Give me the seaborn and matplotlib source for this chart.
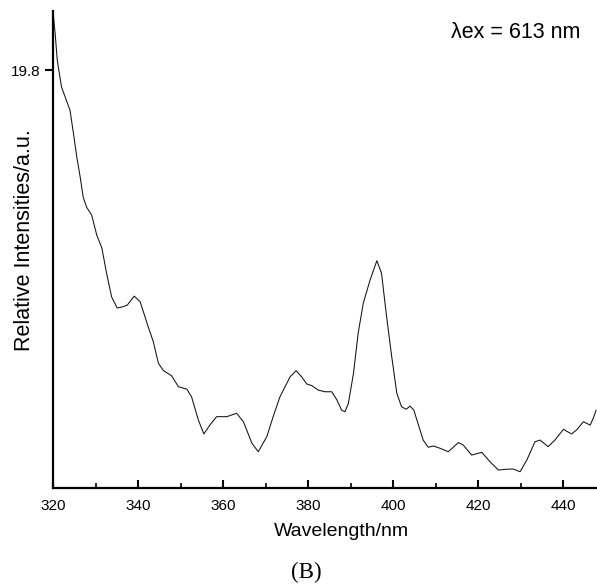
import matplotlib
matplotlib.use("Agg")
import matplotlib.pyplot as plt
import seaborn as sns
import pandas as pd
from matplotlib.ticker import MultipleLocator

wavelength = [320.0, 320.5, 321.0, 322.0, 324.0, 324.8, 325.6, 326.4, 327.1, 327.9,
              329.1, 330.3, 331.5, 332.6, 333.8, 335.1, 336.5, 337.5, 339.1, 340.5,
              342.4, 343.6, 344.8, 346.0, 347.9, 349.5, 351.5, 352.6, 354.2, 355.5,
              356.9, 358.5, 360.9, 363.2, 364.8, 366.8, 368.3, 370.3, 371.8, 373.4,
              374.6, 375.8, 377.2, 378.5, 379.7, 380.9, 382.4, 384.0, 385.6, 386.8,
              387.9, 388.7, 389.5, 390.7, 391.8, 393.0, 394.6, 396.2, 397.3, 398.5,
              399.7, 400.9, 402.0, 403.1, 404.0, 404.9, 406.0, 407.1, 408.3, 409.5,
              411.1, 413.0, 415.4, 416.5, 418.5, 420.9, 422.8, 424.8, 426.8, 428.3,
              429.9, 431.5, 433.4, 434.6, 436.5, 438.1, 440.1, 442.0, 443.2, 444.8,
              446.4, 447.1, 447.8]
intensity = [22.55, 21.55, 20.27, 19.00, 17.90, 16.82, 15.68, 14.73, 13.78, 13.31,
             12.93, 11.98, 11.37, 10.18, 9.05, 8.53, 8.59, 8.67, 9.09, 8.83,
             7.64, 6.93, 5.91, 5.56, 5.32, 4.80, 4.68, 4.32, 3.22, 2.56,
             2.98, 3.38, 3.38, 3.54, 3.14, 2.12, 1.72, 2.43, 3.38, 4.32,
             4.80, 5.27, 5.56, 5.27, 4.93, 4.85, 4.64, 4.56, 4.56, 4.17,
             3.69, 3.61, 4.01, 5.43, 7.33, 8.75, 9.85, 10.77, 10.17, 8.11,
             6.22, 4.49, 3.85, 3.73, 3.88, 3.69, 2.98, 2.27, 1.93, 1.99,
             1.88, 1.72, 2.15, 2.04, 1.56, 1.69, 1.25, 0.85, 0.89, 0.90,
             0.77, 1.33, 2.19, 2.27, 1.96, 2.27, 2.78, 2.56, 2.75, 3.14,
             2.98, 3.30, 3.69]
x_ticks = [320, 340, 360, 380, 400, 420, 440]
y_ticks = [19.8]

df = pd.DataFrame({"Wavelength": wavelength, "Intensity": intensity})

sns.set_style("ticks")
plt.rcParams["font.family"] = ["Liberation Sans", "DejaVu Sans"]
plt.rcParams["text.color"] = "black"
plt.rcParams["axes.labelcolor"] = "black"

fig = plt.figure(figsize=(5.97, 5.86), dpi=100)
W, H = 597, 586
ax = fig.add_axes([53 / W, (H - 488) / H, 544 / W, (488 - 11) / H])

sns.lineplot(data=df, x="Wavelength", y="Intensity", ax=ax, color="#111111",
             linewidth=0.75, sort=False)

ax.set_xlim(320, 448)
ax.set_ylim(0, 22.6)
ax.set_xticks(x_ticks)
ax.xaxis.set_minor_locator(MultipleLocator(10))
ax.set_yticks(y_ticks)
ax.set_yticklabels(["19.8"])

for s in ["top", "right"]:
    ax.spines[s].set_visible(False)
for s in ["left", "bottom"]:
    ax.spines[s].set_linewidth(1.6)
    ax.spines[s].set_color("black")

ax.tick_params(axis="x", which="major", direction="in", length=6, width=1.5,
               labelsize=11, pad=8, colors="black")
ax.tick_params(axis="x", which="minor", direction="in", length=3.5, width=1.2,
               colors="black")
ax.tick_params(axis="y", which="major", direction="out", length=6, width=1.5,
               labelsize=11, pad=3, colors="black")

ax.set_xlabel("Wavelength/nm", fontsize=14, color="black")
ax.xaxis.set_label_coords((341 - 53) / 544, -(523 - 488) / 477)
ax.set_ylabel("Relative Intensities/a.u.", fontsize=15.5, color="black")
ax.yaxis.set_label_coords(-(53 - 35) / 544, (488 - 240) / 477)

fig.text(580 / W, 1 - 33 / H, "λex = 613 nm", fontsize=15.5, ha="right", va="center",
         color="black")
fig.text(306 / W, 1 - 572 / H, "(B)", fontsize=16.5, ha="center", va="center",
         color="black", family=["Liberation Serif", "DejaVu Serif"])

fig.savefig("out.png", dpi=100, facecolor="white")
